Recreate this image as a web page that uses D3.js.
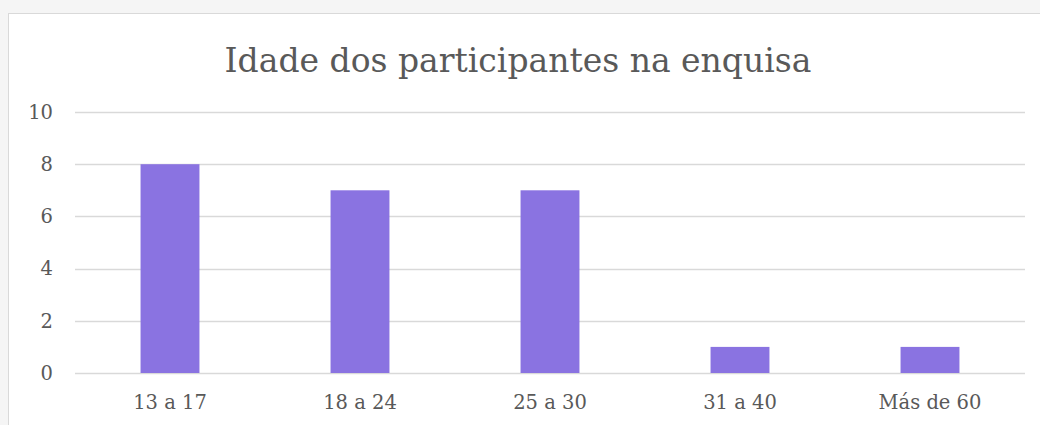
<!DOCTYPE html>
<html>
<head>
<meta charset="utf-8">
<script src="https://cdn.jsdelivr.net/npm/d3@7"></script>
<style>
  body { margin: 0; background: #f5f5f5; }
  svg { display: block; }
</style>
</head>
<body>
<div class="graph"></div>
<script>
const categories = ["13 a 17", "18 a 24", "25 a 30", "31 a 40", "Más de 60"];
const values = [8, 7, 7, 1, 1];
const yTicks = [0, 2, 4, 6, 8, 10];
const title = "Idade dos participantes na enquisa";

const width = 1040;
const height = 425;
const margin = { left: 75, right: 15, top: 112, bottom: 52 };
const font = "'DejaVu Serif', serif";

const svg = d3
  .select(".graph")
  .append("svg")
  .attr("width", width)
  .attr("height", height)
  .attr("viewBox", [0, 0, width, height]);

// chart box
svg
  .append("rect")
  .attr("x", 8.5)
  .attr("y", 13.5)
  .attr("width", width + 10)
  .attr("height", height + 10)
  .attr("fill", "#fff")
  .attr("stroke", "#d9d9d9");

const x = d3
  .scaleBand()
  .domain(categories)
  .range([margin.left, width - margin.right])
  .paddingInner(0.69)
  .paddingOuter(0.345);

const y = d3
  .scaleLinear()
  .domain([0, 10])
  .range([height - margin.bottom, margin.top]);

// gridlines
svg
  .append("g")
  .selectAll("line")
  .data(yTicks)
  .join("line")
  .attr("x1", margin.left)
  .attr("x2", width - margin.right)
  .attr("y1", (d) => Math.round(y(d)) + 0.5)
  .attr("y2", (d) => Math.round(y(d)) + 0.5)
  .attr("stroke", "#d9d9d9")
  .attr("stroke-width", 1.3);

// bars
svg
  .append("g")
  .selectAll("rect")
  .data(values)
  .join("rect")
  .attr("x", (d, i) => x(categories[i]))
  .attr("y", (d) => y(d))
  .attr("width", x.bandwidth())
  .attr("height", (d) => y(0) - y(d))
  .attr("fill", "#8a73e1");

// y axis labels
const yAxis = svg
  .append("g")
  .attr("transform", `translate(${margin.left - 22},0)`)
  .call(d3.axisLeft(y).tickValues(yTicks).tickSize(0).tickPadding(0));
yAxis.select(".domain").remove();
yAxis
  .selectAll("text")
  .attr("font-family", font)
  .attr("font-size", 19.5)
  .attr("fill", "#595959");

// x axis labels
const xAxis = svg
  .append("g")
  .attr("transform", `translate(0,${height - margin.bottom})`)
  .call(d3.axisBottom(x).tickSize(0).tickPadding(22));
xAxis.select(".domain").remove();
xAxis
  .selectAll("text")
  .attr("font-family", font)
  .attr("font-size", 19.5)
  .attr("fill", "#595959");

svg
  .append("text")
  .attr("x", 518)
  .attr("y", 72)
  .attr("text-anchor", "middle")
  .attr("font-family", font)
  .attr("font-size", 33)
  .attr("fill", "#595959")
  .text(title);
</script>
</body>
</html>
